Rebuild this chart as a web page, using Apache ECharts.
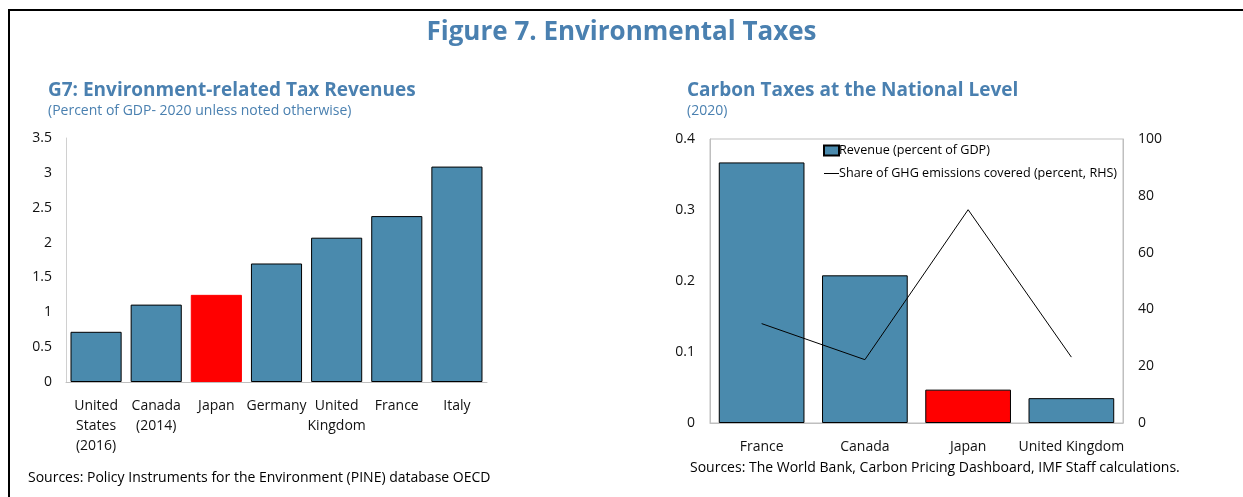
<!DOCTYPE html>
<html>
<head>
<meta charset="utf-8">
<script src="https://cdn.jsdelivr.net/npm/echarts@6/dist/echarts.min.js"></script>
<style>
  html, body { margin: 0; padding: 0; background: #fff; }
  #main { width: 1243px; height: 497px; }
</style>
</head>
<body>
<div id="main"></div>
<script>
// left panel: environment-related tax revenues, % of GDP
var g7Countries = ['United\nStates\n(2016)', 'Canada\n(2014)', 'Japan', 'Germany', 'United\nKingdom', 'France', 'Italy'];
var g7Revenue = [0.72, 1.11, 1.25, 1.70, 2.07, 2.38, 3.09];

// right panel: carbon taxes at the national level (2020)
var carbonCountries = ['France', 'Canada', 'Japan', 'United Kingdom'];
var carbonRevenue = [0.367, 0.208, 0.047, 0.035];
var ghgShare = [35.0, 22.3, 75.1, 23.2];

var blue = '#4a8aad';
var titleBlue = '#4a80b0';
var font = 'Open Sans';

var myChart = echarts.init(document.getElementById('main'));

function colorJapan(vals, names, border) {
    var out = [];
    for (var i = 0; i < vals.length; i++) {
        var item = { value: vals[i] };
        if (names[i] == 'Japan') {
            item.itemStyle = { color: '#ff0000', borderColor: border ? '#000' : '#ff0000' };
        }
        out.push(item);
    }
    return out;
}

var option = {
    textStyle: { fontFamily: font },
    animation: false,
    title: [
        {
            text: 'Figure 7. Environmental Taxes',
            left: 'center', top: 15,
            textStyle: { color: titleBlue, fontSize: 26, fontWeight: 'bold', fontFamily: font }
        },
        {
            text: 'G7: Environment-related Tax Revenues',
            subtext: '(Percent of GDP- 2020 unless noted otherwise)',
            left: 43, top: 76, itemGap: 4,
            textStyle: { color: titleBlue, fontSize: 19, fontWeight: 'bold', fontFamily: font },
            subtextStyle: { color: titleBlue, fontSize: 14, fontFamily: font }
        },
        {
            text: 'Carbon Taxes at the National Level',
            subtext: '(2020)',
            left: 682, top: 76, itemGap: 4,
            textStyle: { color: titleBlue, fontSize: 19, fontWeight: 'bold', fontFamily: font },
            subtextStyle: { color: titleBlue, fontSize: 14, fontFamily: font }
        }
    ],
    legend: {
        left: 818, top: 139,
        orient: 'vertical',
        itemWidth: 15, itemHeight: 10, itemGap: 10,
        textStyle: { fontSize: 12.6, color: '#000', padding: [0, 0, 0, -5] },
        data: [
            { name: 'Revenue (percent of GDP)', icon: 'rect' },
            {
                name: 'Share of GHG emissions covered (percent, RHS)',
                icon: 'path://M0,0 H15 V1 H0 Z',
                itemStyle: { color: '#000', borderWidth: 0 }
            }
        ]
    },
    grid: [
        { left: 66, right: 756, top: 138, bottom: 115 },
        { left: 710, right: 120, top: 139, bottom: 74, show: true, borderColor: '#bfbfbf', borderWidth: 1 }
    ],
    xAxis: [
        {
            type: 'category', gridIndex: 0, data: g7Countries,
            axisLine: { lineStyle: { color: '#bfbfbf' } },
            axisTick: { show: false },
            axisLabel: { color: '#111', fontSize: 14, margin: 14, lineHeight: 20, interval: 0 }
        },
        {
            type: 'category', gridIndex: 1, data: carbonCountries,
            axisLine: { lineStyle: { color: '#bfbfbf' } },
            axisTick: { inside: true, length: 4, lineStyle: { color: '#bfbfbf' } },
            axisLabel: { color: '#111', fontSize: 14, margin: 17, interval: 0 }
        }
    ],
    yAxis: [
        {
            type: 'value', gridIndex: 0, min: 0, max: 3.5, interval: 0.5,
            axisLine: { show: true, lineStyle: { color: '#d0d0d0' } },
            axisTick: { show: false },
            splitLine: { show: false },
            axisLabel: { color: '#111', fontSize: 14, margin: 14 }
        },
        {
            type: 'value', gridIndex: 1, min: 0, max: 0.4, interval: 0.1,
            axisLine: { show: true, lineStyle: { color: '#bfbfbf' } },
            axisTick: { show: false },
            splitLine: { show: false },
            axisLabel: { color: '#111', fontSize: 14, margin: 15 }
        },
        {
            type: 'value', gridIndex: 1, position: 'right', min: 0, max: 100, interval: 20,
            axisLine: { show: true, lineStyle: { color: '#bfbfbf' } },
            axisTick: { show: false },
            splitLine: { show: false },
            axisLabel: { color: '#111', fontSize: 14, margin: 15 }
        }
    ],
    series: [
        {
            name: 'G7 revenue',
            type: 'bar', xAxisIndex: 0, yAxisIndex: 0,
            barCategoryGap: '15%',
            itemStyle: { color: blue, borderColor: '#000', borderWidth: 1 },
            data: colorJapan(g7Revenue, g7Countries, false)
        },
        {
            name: 'Revenue (percent of GDP)',
            type: 'bar', xAxisIndex: 1, yAxisIndex: 1,
            barCategoryGap: '17%',
            itemStyle: { color: blue, borderColor: '#000', borderWidth: 1 },
            data: colorJapan(carbonRevenue, carbonCountries, true)
        },
        {
            name: 'Share of GHG emissions covered (percent, RHS)',
            type: 'line', xAxisIndex: 1, yAxisIndex: 2,
            symbol: 'none',
            lineStyle: { color: '#000', width: 1 },
            itemStyle: { color: '#000' },
            data: ghgShare
        }
    ],
    graphic: [
        {
            type: 'polyline',
            shape: { points: [[9, 497], [9, 10], [1243, 10]] },
            style: { stroke: '#000', lineWidth: 2, fill: null }
        },
        {
            type: 'text', left: 28, top: 471,
            style: { text: 'Sources: Policy Instruments for the Environment (PINE) database OECD', fontSize: 14, fill: '#000', fontFamily: font }
        },
        {
            type: 'text', left: 690, top: 461,
            style: { text: 'Sources: The World Bank, Carbon Pricing Dashboard, IMF Staff calculations.', fontSize: 14, fill: '#000', fontFamily: font }
        }
    ]
};

myChart.setOption(option);
</script>
</body>
</html>
